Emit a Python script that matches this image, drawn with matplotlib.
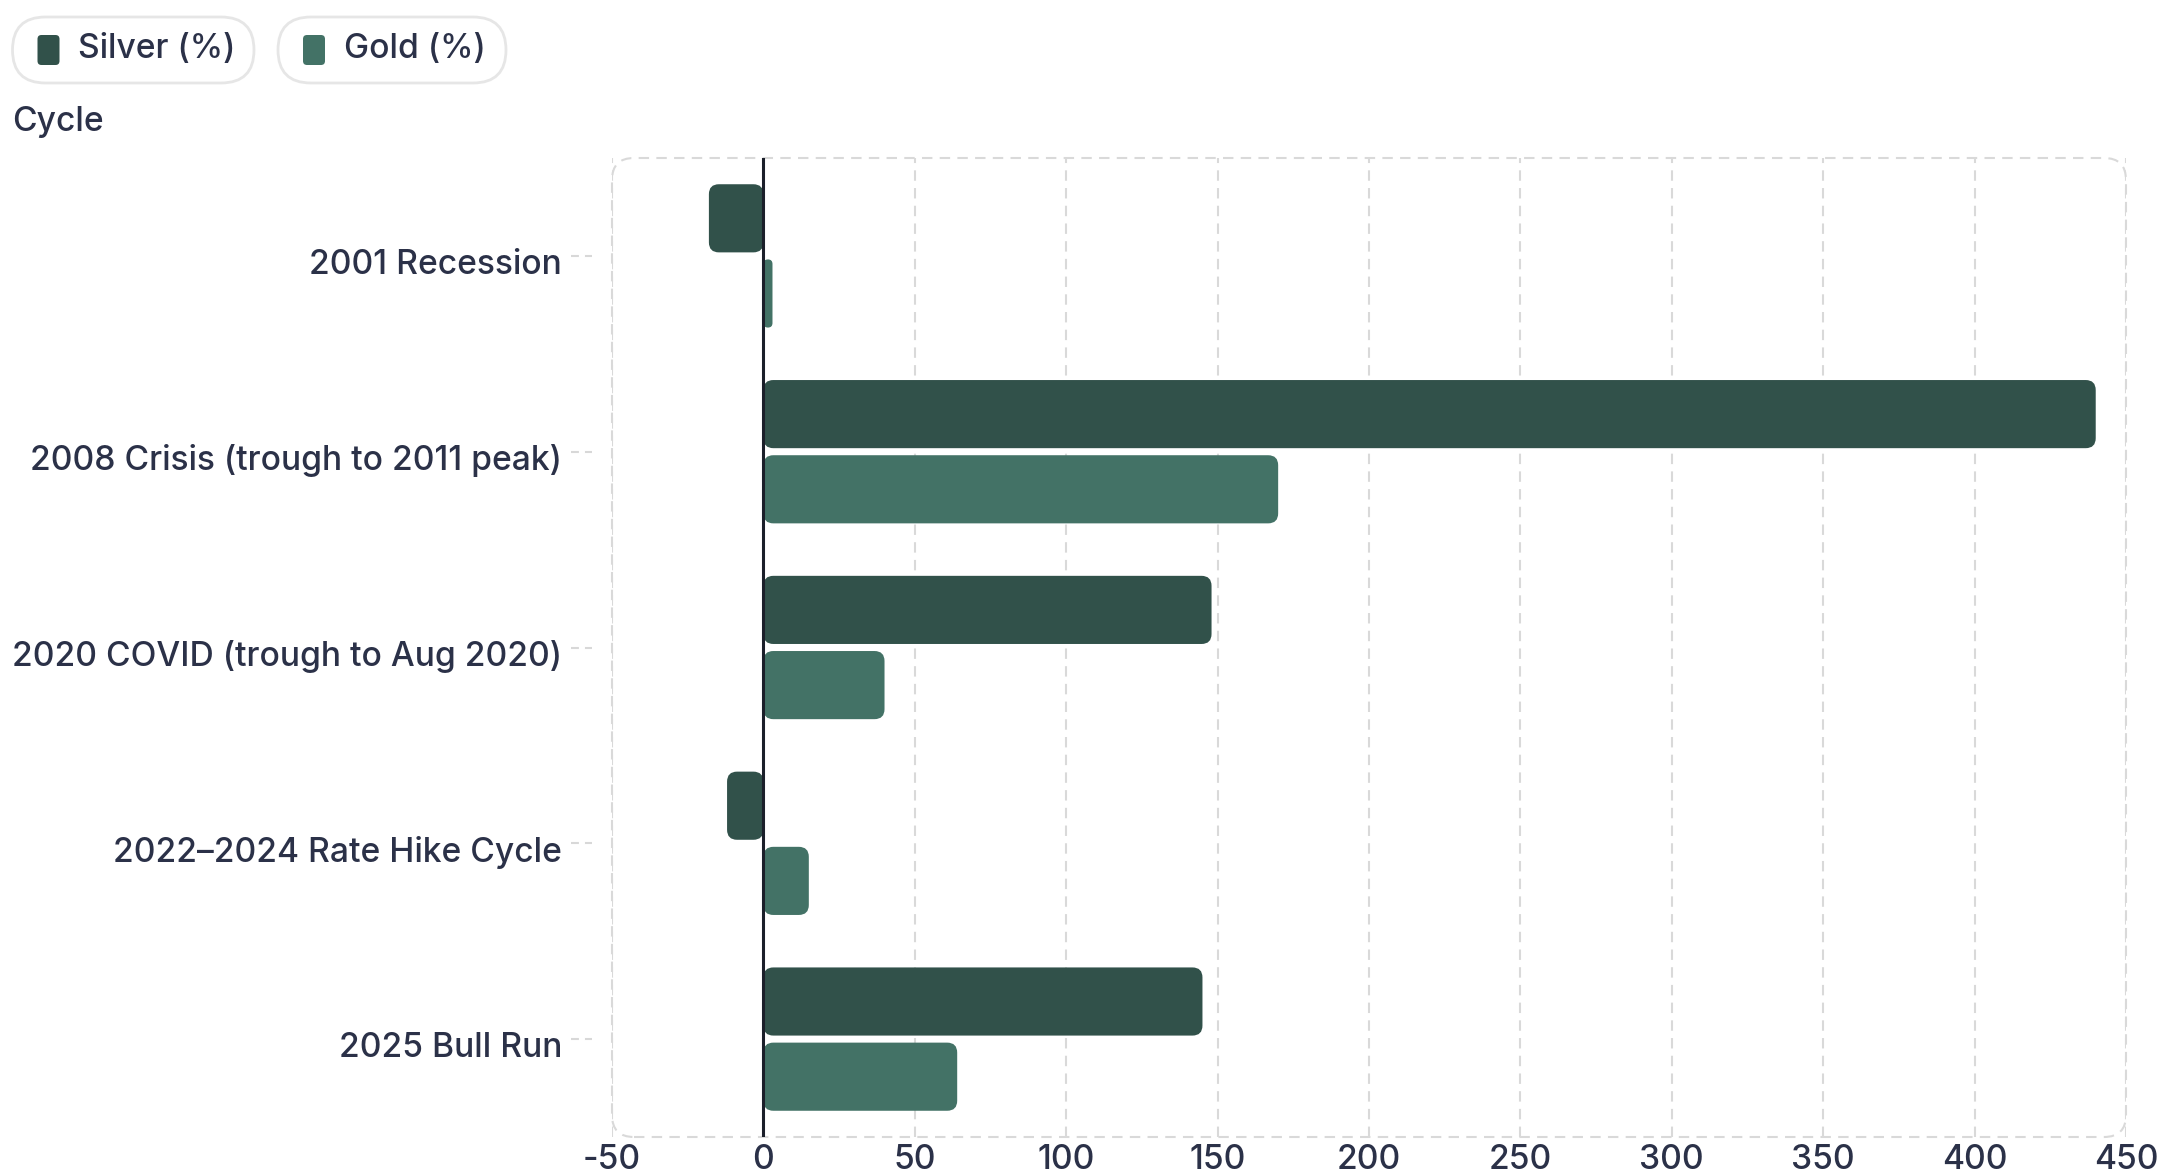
import numpy as np
import matplotlib.pyplot as plt
from matplotlib.patches import FancyBboxPatch
from matplotlib.transforms import IdentityTransform, blended_transform_factory, ScaledTranslation

# Datos
cycles = ["2001 Recession", "2008 Crisis (trough to 2011 peak)",
          "2020 COVID (trough to Aug 2020)", "2022\u20132024 Rate Hike Cycle",
          "2025 Bull Run"]
silver = [-18, 440, 148, -12, 145]
gold = [3, 170, 40, 15, 64]
xticks = [-50, 0, 50, 100, 150, 200, 250, 300, 350, 400, 450]

c_silver = "#31514a"
c_gold = "#437266"
c_text = "#2b3148"
c_grid = "#d9d9d9"
fs = 24.2

plt.rcParams['font.family'] = ['Inter', 'DejaVu Sans']
plt.rcParams['font.weight'] = 500

W, H = 2159, 1175
fig = plt.figure(figsize=(W / 100, H / 100), dpi=100)
L, R, T, B = 612, 2126, 158, 1137
ax = fig.add_axes([L / W, 1 - B / H, (R - L) / W, (B - T) / H])

ax.set_xlim(-50, 450)
ax.set_ylim(len(cycles) - 0.5, -0.5)

y = np.arange(len(cycles))
off, bh = 0.192, 0.348
bars_s = ax.barh(y - off, silver, height=bh, color=c_silver)
bars_g = ax.barh(y + off, gold, height=bh, color=c_gold)

# barras con esquinas redondeadas
pxx = (R - L) / 500.0
pxy = (B - T) / len(cycles)
asp = pxx / pxy
for p in list(bars_s) + list(bars_g):
    x0, y0, w, h = p.get_x(), p.get_y(), p.get_width(), p.get_height()
    if w < 0:
        x0, w = x0 + w, -w
    r = min(10 / pxx, w / 2)
    p.set_visible(False)
    ax.add_patch(FancyBboxPatch((x0, y0), w, h,
                                boxstyle=f"round,pad=0,rounding_size={r}",
                                mutation_aspect=asp, fc=p.get_facecolor(),
                                ec='none', zorder=2))

ax.axvline(0, color="#1b1f2a", lw=2.2, zorder=3)

ax.set_xticks(xticks)
ax.set_xticklabels([str(v) for v in xticks])
ax.grid(axis='x', color=c_grid, ls=(0, (5, 3.5)), lw=1.5, zorder=0)
ax.set_yticks(y)
ax.set_yticklabels(cycles)
ax.tick_params(axis='x', length=0, pad=5, labelsize=fs, labelcolor=c_text)
ax.tick_params(axis='y', length=0, pad=36, labelsize=fs, labelcolor=c_text)
for lbl in ax.get_yticklabels():
    lbl.set_transform(lbl.get_transform() + ScaledTranslation(0, -0.055, fig.dpi_scale_trans))
for s in ax.spines.values():
    s.set_visible(False)

# marco punteado redondeado
ax.add_patch(FancyBboxPatch((0, 0), 1, 1,
                            boxstyle=f"round,pad=0,rounding_size={22 / (R - L)}",
                            mutation_aspect=(R - L) / (B - T),
                            transform=ax.transAxes, fill=False, ec=c_grid,
                            ls=(0, (5, 3.5)), lw=1.5, clip_on=False, zorder=1))

# marcas de categoria
tr = blended_transform_factory(ax.transAxes, ax.transData)
for yi in y:
    ax.plot([-0.027, -0.013], [yi, yi], transform=tr, clip_on=False,
            color="#d8d8d8", lw=1.5, ls=(0, (3.8, 2.9)))

fig.text(12 / W, 1 - 122 / H, "Cycle", fontsize=fs, color=c_text,
         va='center', ha='left')

# leyenda tipo "pill"
def pill(x0, x1, sw_x, tx, label, color):
    fig.add_artist(FancyBboxPatch((x0, H - 83), x1 - x0, 66,
                                  boxstyle="round,pad=0,rounding_size=33",
                                  transform=IdentityTransform(), fc='white',
                                  ec="#e6e6e6", lw=2))
    fig.add_artist(FancyBboxPatch((sw_x, H - 65), 22, 30,
                                  boxstyle="round,pad=0,rounding_size=4",
                                  transform=IdentityTransform(), fc=color,
                                  ec='none'))
    fig.text(tx / W, 1 - 49 / H, label, fontsize=fs, color=c_text,
             va='center', ha='left')

pill(12.5, 254, 37.5, 78, "Silver (%)", c_silver)
pill(278, 506, 303, 344, "Gold (%)", c_gold)

fig.savefig("out.png", dpi=100)
